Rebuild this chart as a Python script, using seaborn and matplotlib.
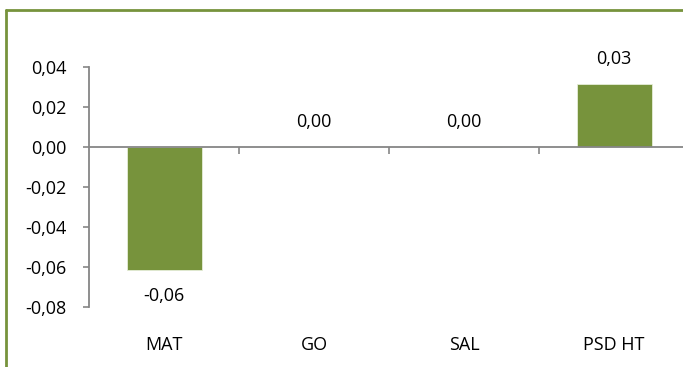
import matplotlib
matplotlib.use("Agg")
import matplotlib.pyplot as plt
import matplotlib.transforms as mtransforms
import seaborn as sns
import pandas as pd

# data
categories = ["MAT", "GO", "SAL", "PSD HT"]
values = [-0.0615, 0.0, 0.0, 0.0313]
value_labels = ["-0,06", "0,00", "0,00", "0,03"]
ytick_vals = [0.04, 0.02, 0.0, -0.02, -0.04, -0.06, -0.08]

df = pd.DataFrame({"cat": categories, "val": values})

sns.set_style("white")
plt.rcParams["font.family"] = ["Open Sans", "DejaVu Sans"]
plt.rcParams["text.color"] = "black"
plt.rcParams["ytick.labelcolor"] = "black"

green = "#77933C"
grey = "#868686"
fs = 13

fig = plt.figure(figsize=(6.83, 3.67), dpi=100)
# plot area: x from 89px to 689px (runs past the right edge), y from 67px to 307px
ax = fig.add_axes([89 / 683, 1 - 307 / 367, 600 / 683, 240 / 367])

sns.barplot(data=df, x="cat", y="val", color=green, width=0.5,
            edgecolor="#e6eed8", linewidth=0.6, saturation=1, ax=ax)

ax.set_xlim(-0.5, 3.5)
ax.set_ylim(-0.08, 0.04)
ax.set_xlabel("")
ax.set_ylabel("")

for s in ["top", "right"]:
    ax.spines[s].set_visible(False)
ax.spines["left"].set_color(grey)
ax.spines["left"].set_linewidth(1.3)
ax.spines["bottom"].set_position(("data", 0))
ax.spines["bottom"].set_color(grey)
ax.spines["bottom"].set_linewidth(1.3)

ax.set_yticks(ytick_vals)
ax.set_yticklabels([f"{v:.2f}".replace(".", ",") for v in ytick_vals], fontsize=fs)
ax.tick_params(axis="y", direction="out", length=4, width=1.2, color=grey, pad=12,
               left=True, labelcolor="black")
ax.set_xticks([0.5, 1.5, 2.5])
ax.set_xticklabels([])
ax.tick_params(axis="x", direction="out", length=5, width=1.2, color=grey, bottom=True)

# category labels below the plot area
trans = mtransforms.blended_transform_factory(ax.transData, fig.transFigure)
for i, c in enumerate(categories):
    ax.text(i, 1 - 345 / 367, c, transform=trans, ha="center", va="center",
            fontsize=fs, color="black")

# value labels
for i, (v, lab) in enumerate(zip(values, value_labels)):
    off = -19 if v < 0 else 18
    ax.annotate(lab, (i, v), xytext=(0, off), textcoords="offset points",
                ha="center", va="center", fontsize=fs, color="black")

# chart-area border (only left and top show in the crop)
fig.add_artist(plt.Line2D([6 / 683, 6 / 683], [0, 1 - 10 / 367], color=green,
                          linewidth=2, transform=fig.transFigure))
fig.add_artist(plt.Line2D([6 / 683, 1], [1 - 10 / 367, 1 - 10 / 367], color=green,
                          linewidth=2, transform=fig.transFigure))

fig.savefig("out.png", dpi=100)
